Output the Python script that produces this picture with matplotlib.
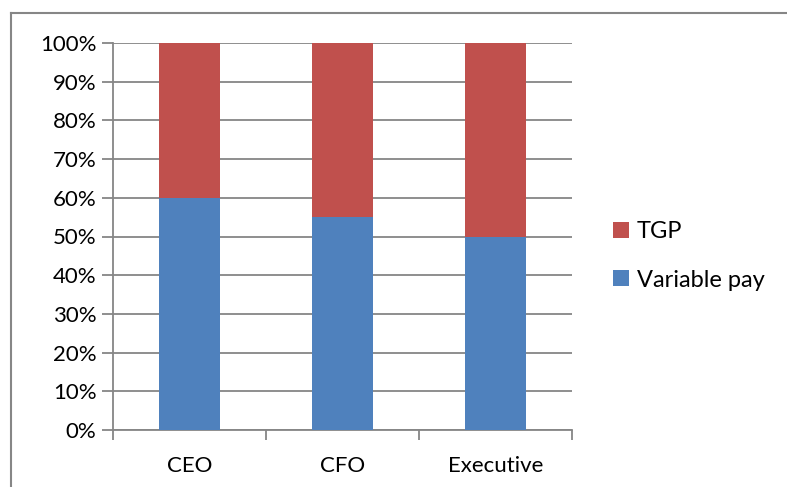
import matplotlib
matplotlib.use("Agg")
import matplotlib.pyplot as plt
from matplotlib.lines import Line2D
from matplotlib.ticker import MultipleLocator, PercentFormatter

categories = ["CEO", "CFO", "Executive"]
variable_pay = [60, 55, 50]
tgp = [40, 45, 50]

plt.rcParams["font.family"] = ["Lato", "DejaVu Sans"]

W, H = 787, 487
fig = plt.figure(figsize=(W / 100, H / 100), dpi=100)
ax = fig.add_axes([113 / W, 1 - 430 / H, (572 - 113) / W, (430 - 43) / H])

blue = "#4f81bd"
red = "#c0504d"
grid = "#868686"

x = range(len(categories))
ax.bar(x, variable_pay, width=0.4, color=blue, label="Variable pay", zorder=3)
ax.bar(x, tgp, width=0.4, bottom=variable_pay, color=red, label="TGP", zorder=3)

ax.set_xlim(-0.5, len(categories) - 0.5)
ax.set_ylim(0, 100)
ax.yaxis.set_major_locator(MultipleLocator(10))
ax.yaxis.set_major_formatter(PercentFormatter(decimals=0))
ax.yaxis.grid(True, color=grid, linewidth=1.3, zorder=0)

ax.set_xticks(list(x))
ax.set_xticklabels(categories)
ax.set_xticks([i - 0.5 for i in range(len(categories) + 1)], minor=True)
ax.tick_params(axis="x", which="major", length=0, pad=19, labelsize=16)
ax.tick_params(axis="x", which="minor", length=7, width=1.3, color=grid)
ax.tick_params(axis="y", length=8, width=1.3, color=grid, labelsize=16, pad=4)

for side in ["top", "right"]:
    ax.spines[side].set_visible(False)
for side in ["left", "bottom"]:
    ax.spines[side].set_color(grid)
    ax.spines[side].set_linewidth(1.3)

handles, labels = ax.get_legend_handles_labels()
leg = fig.legend(handles[::-1], labels[::-1], loc="center left",
                 bbox_to_anchor=(592 / W, 1 - 256 / H), frameon=False,
                 fontsize=17, handlelength=0.65, handleheight=0.65,
                 handletextpad=0.35, labelspacing=1.15)

# outer chart border
fig.add_artist(Line2D([11 / W, 11 / W], [0, 1 - 13 / H], color=grid, lw=1.5))
fig.add_artist(Line2D([11 / W, 1], [1 - 13 / H, 1 - 13 / H], color=grid, lw=1.5))

fig.savefig("out.png", dpi=100)
